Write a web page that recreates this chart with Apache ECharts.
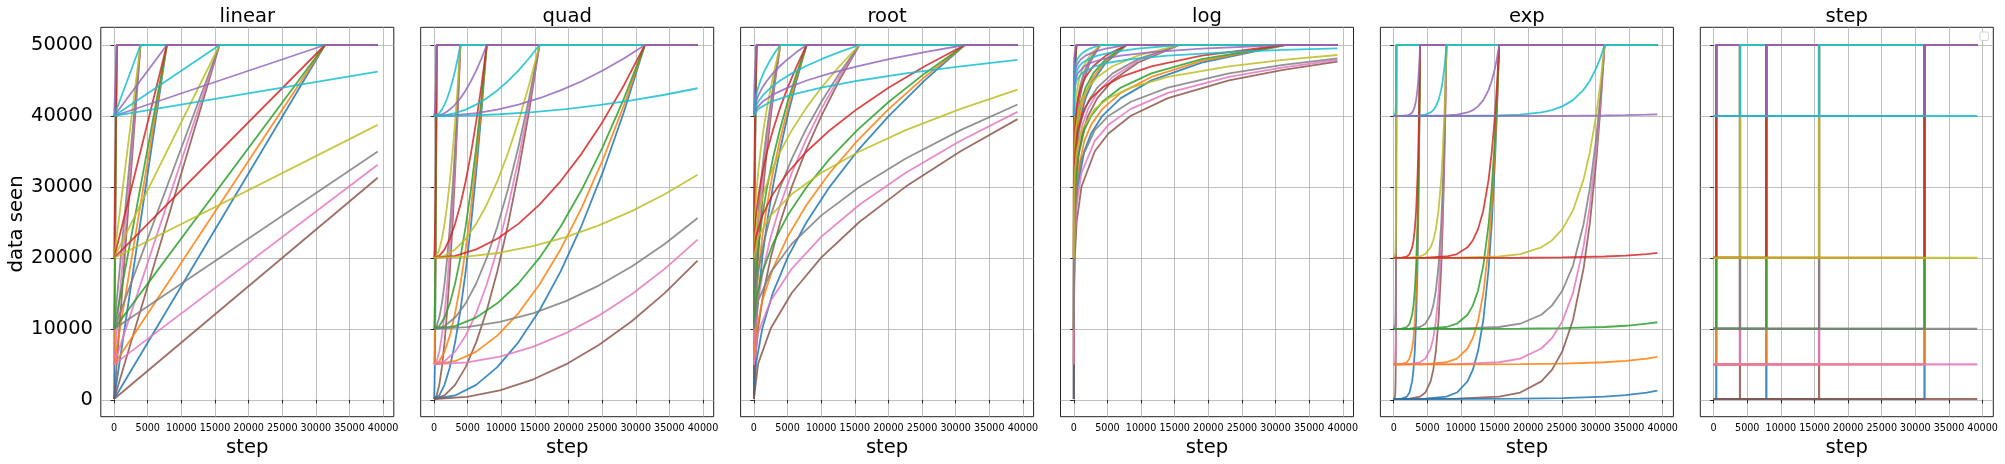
<!DOCTYPE html>
<html>
<head>
<meta charset="utf-8">
<script src="https://cdn.jsdelivr.net/npm/echarts@6/dist/echarts.min.js"></script>
<style>
html,body{margin:0;padding:0;background:#fff;}
#chart{width:2005px;height:464px;}
</style>
</head>
<body>
<div id="chart"></div>
<script>
const TITLES = ['linear', 'quad', 'root', 'log', 'exp', 'step'];
const X_TICKS = [0, 5000, 10000, 15000, 20000, 25000, 30000, 35000, 40000];
const Y_TICKS = [0, 10000, 20000, 30000, 40000, 50000];
const COLORS = ['#1f77b4', '#ff7f0e', '#2ca02c', '#d62728', '#9467bd', '#8c564b', '#e377c2', '#7f7f7f', '#bcbd22', '#17becf'];
const COLOR_SHIFT = [0, 0, 0, 0, 5, 0];

// ---------- linear ----------
const linearX = [
  [0, 392, 39200], [0, 3920, 39200], [0, 7840, 39200], [0, 15680, 39200], [0, 31360, 39200], [0, 39200]
];
const linearCapY = [[125, 50000, 50000], [5000, 50000, 50000], [10000, 50000, 50000], [20000, 50000, 50000], [40000, 50000, 50000]];
const linearSlowY = [[125, 31297], [5000, 33125], [10000, 35000], [20000, 38750], [40000, 46250]];

// ---------- quad ----------
const quadX = [
  [0, 39, 78, 118, 157, 196, 235, 274, 314, 353, 392, 39200],
  [0, 392, 784, 1176, 1568, 1960, 2352, 2744, 3136, 3528, 3920, 39200],
  [0, 784, 1568, 2352, 3136, 3920, 4704, 5488, 6272, 7056, 7840, 39200],
  [0, 1568, 3136, 4704, 6272, 7840, 9408, 10976, 12544, 14112, 15680, 39200],
  [0, 3136, 6272, 9408, 12544, 15680, 18816, 21952, 25088, 28224, 31360, 39200],
  [0, 4900, 9800, 14700, 19600, 24500, 29400, 34300, 39200]
];
const quadCapY = [
  [125, 624, 2120, 4614, 8105, 12594, 18080, 24564, 32045, 40524, 50000, 50000],
  [5000, 5450, 6800, 9050, 12200, 16250, 21200, 27050, 33800, 41450, 50000, 50000],
  [10000, 10400, 11600, 13600, 16400, 20000, 24400, 29600, 35600, 42400, 50000, 50000],
  [20000, 20300, 21200, 22700, 24800, 27500, 30800, 34700, 39200, 44300, 50000, 50000],
  [40000, 40100, 40400, 40900, 41600, 42500, 43600, 44900, 46400, 48100, 50000, 50000]
];
const quadSlowY = [
  [125, 429, 1343, 2865, 4996, 7735, 11084, 15041, 19607],
  [5000, 5275, 6099, 7472, 9395, 11866, 14888, 18458, 22578],
  [10000, 10244, 10977, 12197, 13906, 16104, 18789, 21963, 25625],
  [20000, 20183, 20732, 21648, 22930, 24578, 26592, 28972, 31719],
  [40000, 40061, 40244, 40549, 40977, 41526, 42197, 42991, 43906]
];

// ---------- root ----------
const rootX = [
  [0, 4, 16, 35, 63, 98, 141, 192, 251, 318, 392, 39200],
  [0, 39, 157, 353, 627, 980, 1411, 1921, 2509, 3175, 3920, 39200],
  [0, 78, 314, 706, 1254, 1960, 2822, 3842, 5018, 6350, 7840, 39200],
  [0, 157, 627, 1411, 2509, 3920, 5645, 7683, 10035, 12701, 15680, 39200],
  [0, 314, 1254, 2822, 5018, 7840, 11290, 15366, 20070, 25402, 31360, 39200],
  [0, 627, 2509, 5645, 10035, 15680, 22579, 30733, 39200]
];
const rootCapY = [
  [125, 5113, 10100, 15088, 20075, 25063, 30050, 35038, 40025, 45013, 50000, 50000],
  [5000, 9500, 14000, 18500, 23000, 27500, 32000, 36500, 41000, 45500, 50000, 50000],
  [10000, 14000, 18000, 22000, 26000, 30000, 34000, 38000, 42000, 46000, 50000, 50000],
  [20000, 23000, 26000, 29000, 32000, 35000, 38000, 41000, 44000, 47000, 50000, 50000],
  [40000, 41000, 42000, 43000, 44000, 45000, 46000, 47000, 48000, 49000, 50000, 50000]
];
const rootSlowY = [
  [125, 5113, 10100, 15088, 20075, 25063, 30050, 35038, 39555],
  [5000, 9500, 14000, 18500, 23000, 27500, 32000, 36500, 40576],
  [10000, 14000, 18000, 22000, 26000, 30000, 34000, 38000, 41623],
  [20000, 23000, 26000, 29000, 32000, 35000, 38000, 41000, 43717],
  [40000, 41000, 42000, 43000, 44000, 45000, 46000, 47000, 47906]
];

// ---------- log ----------
const logX = [
  [0, 0.03, 0.11, 0.34, 0.95, 2.6, 7.2, 19.5, 32.2, 53, 87.5, 144, 238, 392, 39200],
  [0, 0.3, 1.1, 3.4, 9.5, 26.2, 71.6, 195, 322, 530, 874, 1442, 2377, 3920, 39200],
  [0, 0.6, 2.3, 6.8, 19.1, 52.5, 143, 390, 643, 1061, 1749, 2884, 4755, 7840, 39200],
  [0, 1.2, 4.5, 13.6, 38.2, 105, 287, 780, 1287, 2122, 3498, 5768, 9510, 15680, 39200],
  [0, 2.4, 9.1, 27.2, 76.3, 210, 573, 1560, 2573, 4243, 6996, 11535, 19020, 31360, 39200],
  [0, 4.9, 18.2, 54.4, 153, 420, 1146, 3120, 5146, 8486, 13992, 23070, 31143, 39200]
];
const logCapY = [
  [125, 5113, 10100, 15088, 20075, 25063, 30050, 35038, 37531, 40025, 42519, 45013, 47506, 50000, 50000],
  [5000, 9500, 14000, 18500, 23000, 27500, 32000, 36500, 38750, 41000, 43250, 45500, 47750, 50000, 50000],
  [10000, 14000, 18000, 22000, 26000, 30000, 34000, 38000, 40000, 42000, 44000, 46000, 48000, 50000, 50000],
  [20000, 23000, 26000, 29000, 32000, 35000, 38000, 41000, 42500, 44000, 45500, 47000, 48500, 50000, 50000],
  [40000, 41000, 42000, 43000, 44000, 45000, 46000, 47000, 47500, 48000, 48500, 49000, 49500, 50000, 50000]
];
const logSlowY = [
  [125, 5113, 10100, 15088, 20075, 25063, 30050, 35038, 37531, 40025, 42519, 45013, 46509, 47656],
  [5000, 9500, 14000, 18500, 23000, 27500, 32000, 36500, 38750, 41000, 43250, 45500, 46850, 47885],
  [10000, 14000, 18000, 22000, 26000, 30000, 34000, 38000, 40000, 42000, 44000, 46000, 47200, 48120],
  [20000, 23000, 26000, 29000, 32000, 35000, 38000, 41000, 42500, 44000, 45500, 47000, 47900, 48590],
  [40000, 41000, 42000, 43000, 44000, 45000, 46000, 47000, 47500, 48000, 48500, 49000, 49300, 49530]
];

// ---------- exp ----------
const expX = [
  [0, 118, 196, 235, 274, 294, 314, 333, 353, 365, 376, 384, 392, 39200],
  [0, 1176, 1960, 2352, 2744, 2940, 3136, 3332, 3528, 3646, 3763, 3842, 3920, 39200],
  [0, 2352, 3920, 4704, 5488, 5880, 6272, 6664, 7056, 7291, 7526, 7683, 7840, 39200],
  [0, 4704, 7840, 9408, 10976, 11760, 12544, 13328, 14112, 14582, 15053, 15366, 15680, 39200],
  [0, 9408, 15680, 18816, 21952, 23520, 25088, 26656, 28224, 29165, 30106, 30733, 31360, 39200],
  [0, 12544, 18816, 25088, 31360, 34496, 37632, 39200]
];
const expCapY = [
  [125, 168, 459, 1036, 2606, 4217, 6873, 11252, 18474, 24893, 33556, 40958, 50000, 50000],
  [5000, 5039, 5301, 5822, 7238, 8692, 11089, 15040, 21556, 27347, 35164, 41842, 50000, 50000],
  [10000, 10035, 10268, 10731, 11990, 13282, 15412, 18924, 24716, 29864, 36812, 42748, 50000, 50000],
  [20000, 20026, 20201, 20548, 21492, 22461, 24059, 26693, 31037, 34898, 40109, 44561, 50000, 50000],
  [40000, 40009, 40067, 40183, 40497, 40820, 41353, 42231, 43679, 44966, 46703, 48187, 50000, 50000]
];
const expSlowY = [
  [125, 139, 168, 246, 459, 677, 1036, 1296],
  [5000, 5013, 5039, 5109, 5301, 5498, 5822, 6057],
  [10000, 10012, 10035, 10097, 10268, 10442, 10731, 10939],
  [20000, 20009, 20026, 20073, 20201, 20332, 20548, 20704],
  [40000, 40003, 40009, 40024, 40067, 40111, 40183, 40235]
];

// ---------- step ----------
const stepX = [
  [0, 392, 392, 39200], [0, 3920, 3920, 39200], [0, 7840, 7840, 39200],
  [0, 15680, 15680, 39200], [0, 31360, 31360, 39200], [0, 39200]
];
const stepCapY = [[125, 125, 50000, 50000], [5000, 5000, 50000, 50000], [10000, 10000, 50000, 50000], [20000, 20000, 50000, 50000], [40000, 40000, 50000, 50000]];
const stepSlowY = [[125, 125], [5000, 5000], [10000, 10000], [20000, 20000], [40000, 40000]];

const PANEL_X = [linearX, quadX, rootX, logX, expX, stepX];
const PANEL_Y = [
  [linearCapY, linearCapY, linearCapY, linearCapY, linearCapY, linearSlowY],
  [quadCapY, quadCapY, quadCapY, quadCapY, quadCapY, quadSlowY],
  [rootCapY, rootCapY, rootCapY, rootCapY, rootCapY, rootSlowY],
  [logCapY, logCapY, logCapY, logCapY, logCapY, logSlowY],
  [expCapY, expCapY, expCapY, expCapY, expCapY, expSlowY],
  [stepCapY, stepCapY, stepCapY, stepCapY, stepCapY, stepSlowY]
];

// ---------- layout ----------
const GL = 100.8, GSTEP = 319.9, GT = 27.3, GW = 293, GH = 389.4;
const FONT = '"DejaVu Sans", sans-serif';

const grids = [], xAxes = [], yAxes = [], series = [], graphics = [];
TITLES.forEach((t, p) => {
  const left = GL + GSTEP * p;
  grids.push({ left: left, top: GT, width: GW, height: GH, show: true, borderColor: '#222', borderWidth: 1, backgroundColor: 'transparent' });
  xAxes.push({
    gridIndex: p, type: 'value', min: -1980, max: 41590, splitNumber: 9,
    axisLine: { show: false },
    axisTick: { show: true, length: 3.5, lineStyle: { color: '#000', width: 0.8 }, customValues: X_TICKS },
    axisLabel: { show: true, customValues: X_TICKS, fontSize: 9.6, fontFamily: FONT, color: '#000', margin: 6.5, formatter: v => String(v) },
    splitLine: { show: true, lineStyle: { color: '#b0b0b0', width: 0.8 } }
  });
  yAxes.push({
    gridIndex: p, type: 'value', min: -2369, max: 52494, splitNumber: 5,
    axisLine: { show: false },
    axisTick: { show: true, length: 3.5, lineStyle: { color: '#000', width: 0.8 }, customValues: Y_TICKS },
    axisLabel: { show: p === 0, customValues: Y_TICKS, fontSize: 19.4, fontFamily: FONT, color: '#000', margin: 8, formatter: v => String(v) },
    splitLine: { show: true, lineStyle: { color: '#b0b0b0', width: 0.8 } }
  });
  const X = PANEL_X[p], Y = PANEL_Y[p];
  for (let k = 0; k < X.length; k++) {
    for (let j = 0; j < 5; j++) {
      const data = X[k].map((x, i) => [x, Y[k][j][i]]);
      series.push({
        type: 'line', xAxisIndex: p, yAxisIndex: p, data: data,
        showSymbol: false, symbol: 'none', silent: true, animation: false,
        lineStyle: { color: COLORS[(5 * k + j + COLOR_SHIFT[p]) % 10], width: p === 5 ? 2.2 : 1.8, opacity: 0.85 },
        z: 2
      });
    }
  }
  graphics.push({ type: 'text', x: left + GW / 2, y: 16.5, style: { text: t, font: '19.6px ' + FONT, fill: '#000', align: 'center', verticalAlign: 'middle' } });
  graphics.push({ type: 'text', x: left + GW / 2, y: 447.5, style: { text: 'step', font: '19.6px ' + FONT, fill: '#000', align: 'center', verticalAlign: 'middle' } });
});
graphics.push({ type: 'text', x: 16.5, y: 224, rotation: Math.PI / 2, style: { text: 'data seen', font: '19.6px ' + FONT, fill: '#000', align: 'center', verticalAlign: 'middle' } });
graphics.push({ type: 'rect', shape: { x: 1980, y: 32, width: 8.5, height: 8.5, r: 1.5 }, style: { fill: '#fff', stroke: '#cccccc', lineWidth: 0.8 }, z: 100 });

const chart = echarts.init(document.getElementById('chart'), null, { renderer: 'canvas' });
chart.setOption({
  animation: false,
  backgroundColor: '#fff',
  grid: grids, xAxis: xAxes, yAxis: yAxes, series: series, graphic: graphics
});
</script>
</body>
</html>
